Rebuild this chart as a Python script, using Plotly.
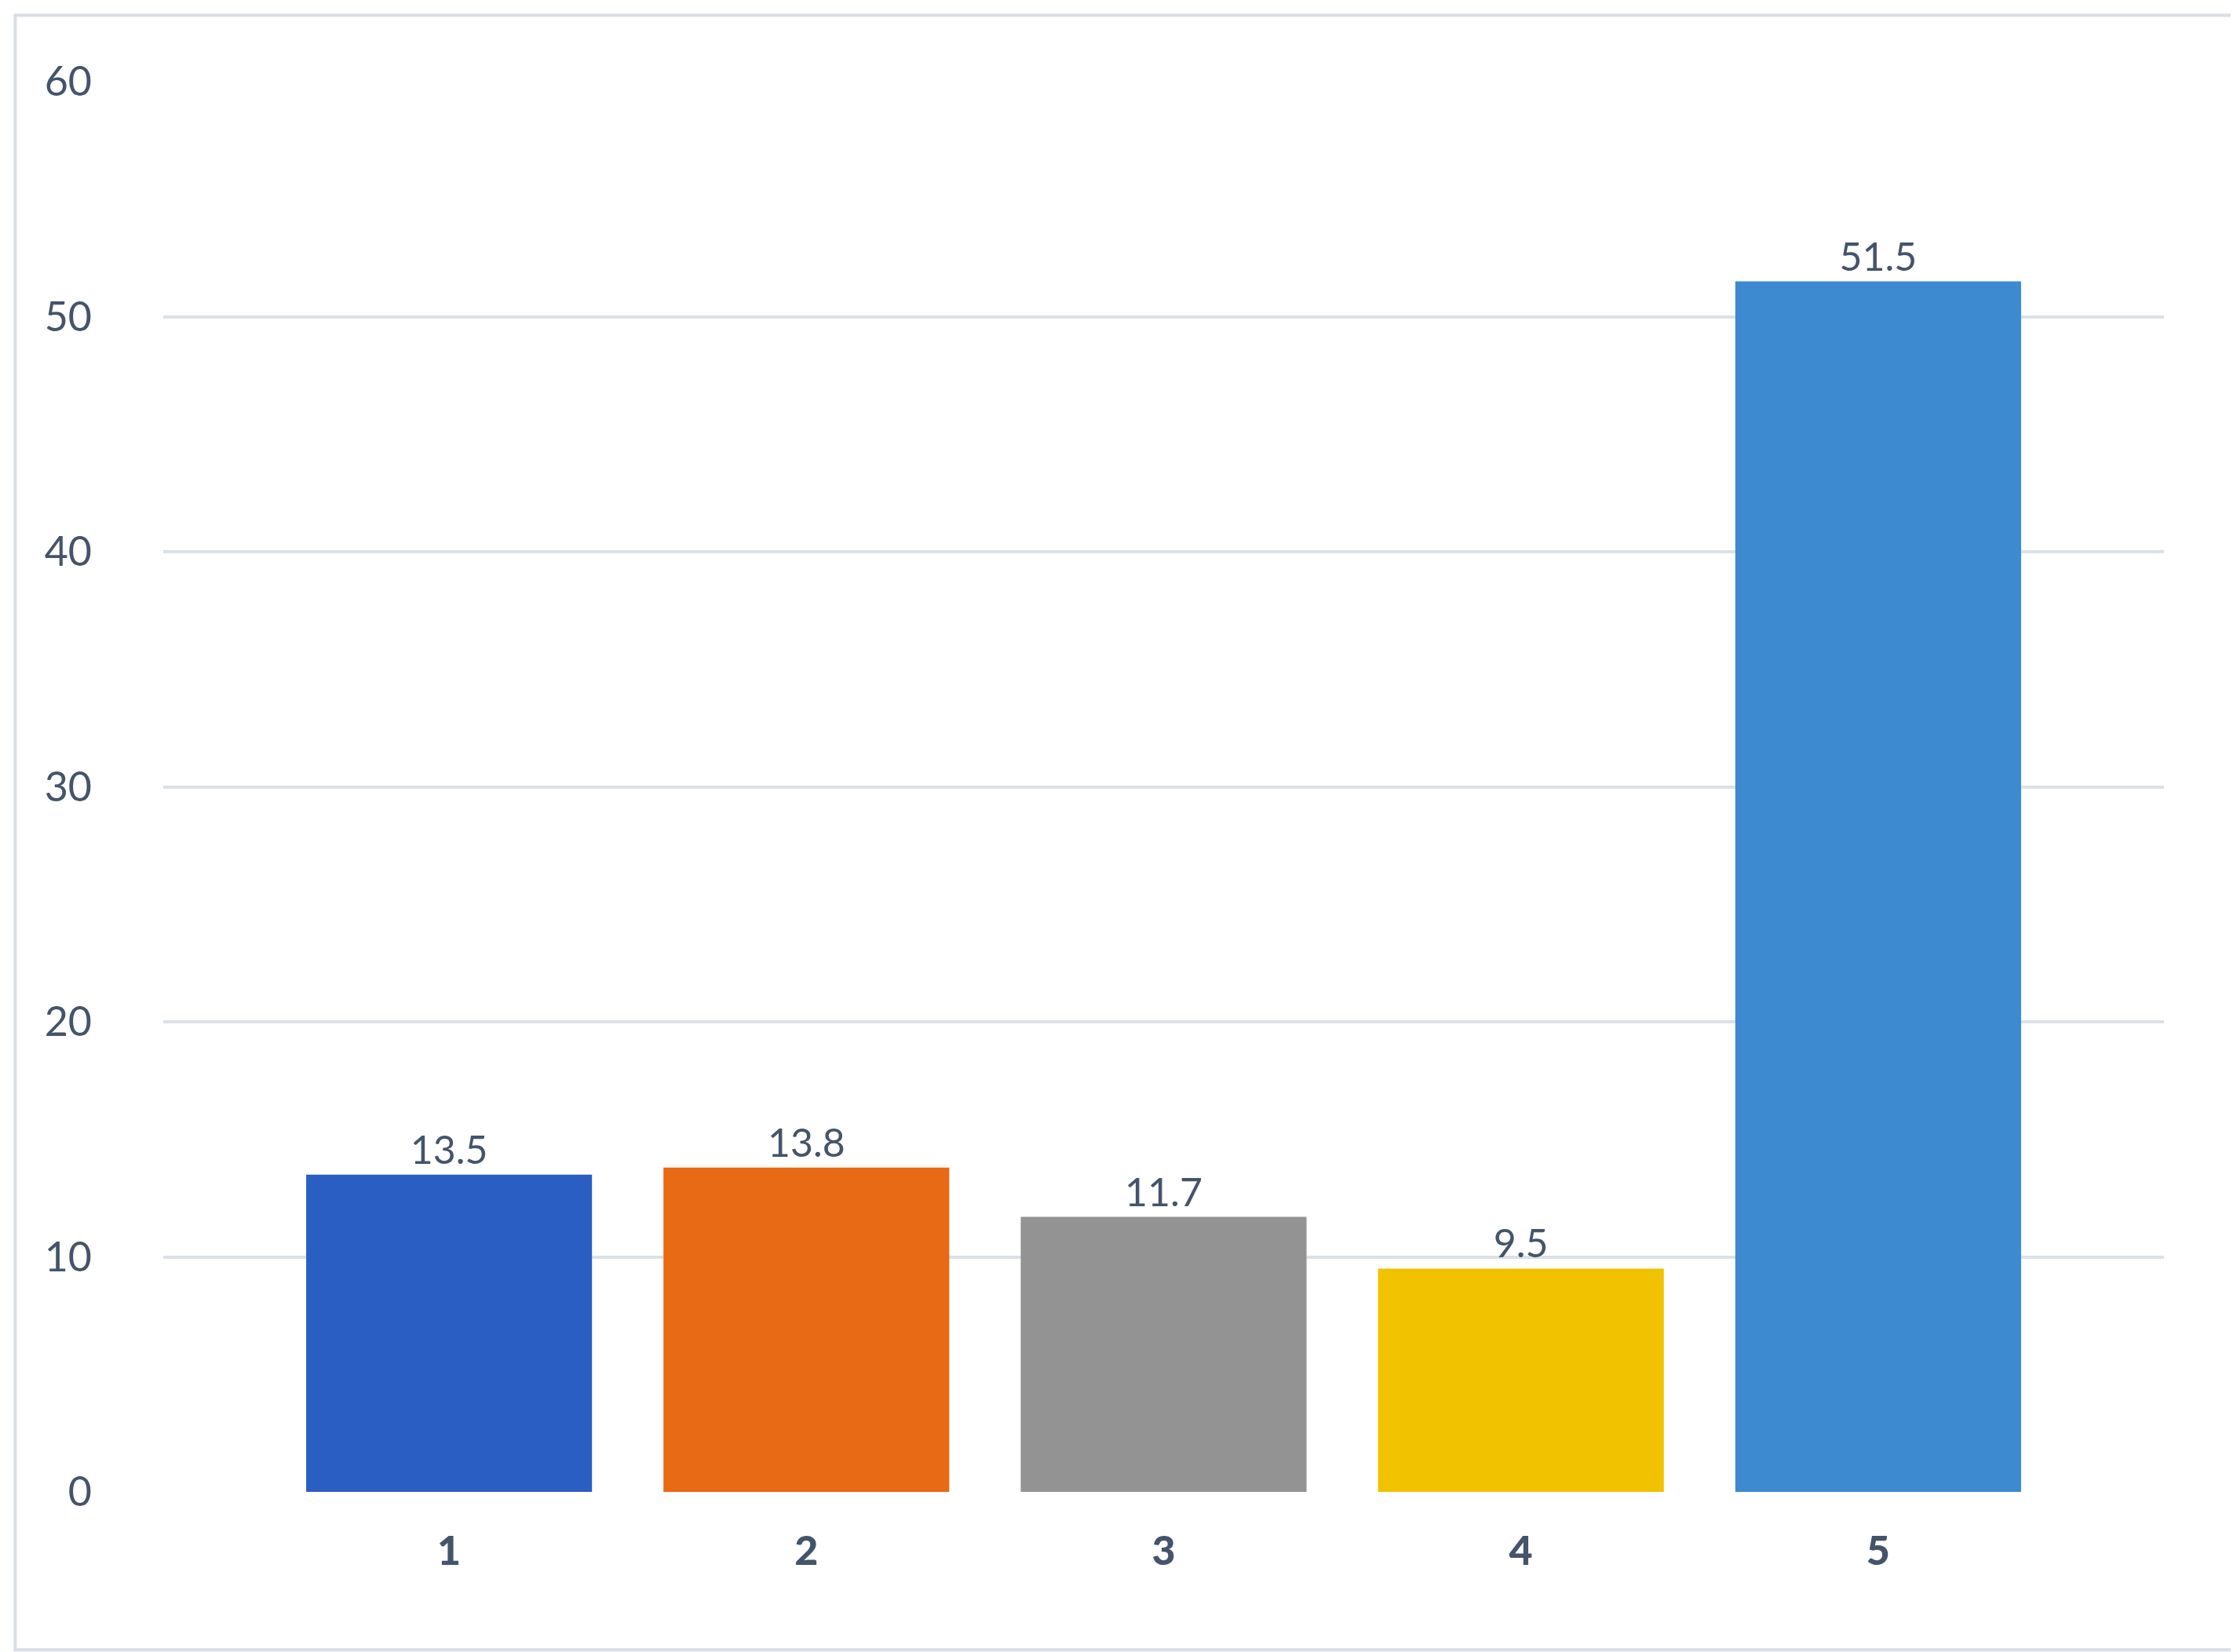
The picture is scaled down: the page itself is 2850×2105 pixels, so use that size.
import plotly.graph_objects as go

categories = ["1", "2", "3", "4", "5"]
values = [13.5, 13.8, 11.7, 9.5, 51.5]
colors = ["#2B5EC2", "#E86A14", "#939393", "#F0C200", "#3D8AD0"]
y_ticks = [0, 10, 20, 30, 40, 50, 60]

xs = list(range(len(categories)))
fig = go.Figure(go.Bar(
    x=xs, y=values, marker=dict(color=colors, line=dict(width=0)),
    text=[str(v) for v in values], textposition="outside",
    textfont=dict(size=50, color="#44546A", family="Lato"), cliponaxis=False,
    width=0.8,
))
fig.update_layout(
    width=2850, height=2105, paper_bgcolor="white", plot_bgcolor="white",
    margin=dict(l=200, r=101, t=96, b=212), showlegend=False,
    font=dict(family="Lato", color="#44546A"),
    xaxis=dict(range=[-0.8, 4.8], tickvals=xs, ticktext=categories, showgrid=False,
               zeroline=False, tickfont=dict(size=52, color="#44546A", family="Lato Black"),
               ticklabelstandoff=40),
    yaxis=dict(range=[0, 60], tickvals=y_ticks, showgrid=True, gridcolor="#DCE1E8",
               gridwidth=4, zeroline=False, tickfont=dict(size=52, color="#44546A"),
               ticklabelstandoff=90, ticklabelposition="outside"),
    shapes=[dict(type="rect", xref="paper", yref="paper", x0=-0.074, x1=1.035,
                 y0=-0.112, y1=1.047, line=dict(color="#D9DEE6", width=4))],
)
fig.write_html("out.html")
